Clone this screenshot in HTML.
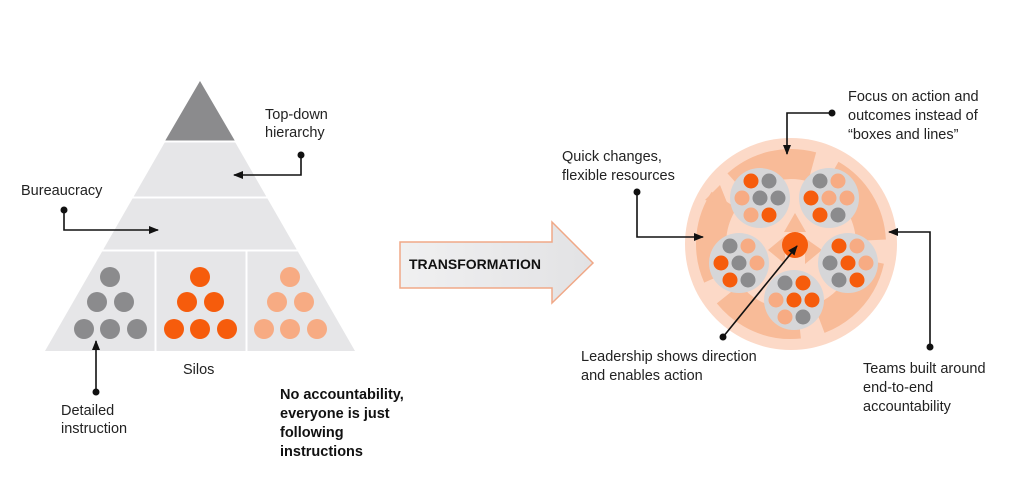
<!DOCTYPE html>
<html><head><meta charset="utf-8"><style>
html,body{margin:0;padding:0;background:#fff;}
svg{display:block;}
text{font-family:"Liberation Sans",sans-serif;font-size:14.5px;fill:#222;}
.b{font-weight:bold;fill:#111;}
</style></head><body>
<svg width="1024" height="487" viewBox="0 0 1024 487" xmlns="http://www.w3.org/2000/svg">
<defs>
<marker id="ah" markerWidth="10" markerHeight="8" refX="9" refY="4" orient="auto" markerUnits="userSpaceOnUse">
<path d="M0,0 L10,4 L0,8 Z" fill="#111"/></marker>
<linearGradient id="ag" x1="0" x2="1"><stop offset="0" stop-color="#f0f0f1"/><stop offset="1" stop-color="#e2e2e4"/></linearGradient>
</defs>
<polygon points="200,81 355,351 45,351" fill="#e6e6e8"/>
<polygon points="200,81 235,141 165,141" fill="#8b8b8d"/>
<line x1="150" y1="141.5" x2="250" y2="141.5" stroke="#fff" stroke-width="2"/>
<line x1="100" y1="197.5" x2="300" y2="197.5" stroke="#fff" stroke-width="2"/>
<line x1="60" y1="250.5" x2="340" y2="250.5" stroke="#fff" stroke-width="2"/>
<line x1="155.5" y1="251" x2="155.5" y2="352" stroke="#fff" stroke-width="2"/>
<line x1="246.5" y1="251" x2="246.5" y2="352" stroke="#fff" stroke-width="2"/>
<g fill="#8b8b8d"><circle cx="110" cy="277" r="10"/><circle cx="97" cy="302" r="10"/><circle cx="124" cy="302" r="10"/><circle cx="84" cy="329" r="10"/><circle cx="110" cy="329" r="10"/><circle cx="137" cy="329" r="10"/></g>
<g fill="#f65c0c"><circle cx="200" cy="277" r="10"/><circle cx="187" cy="302" r="10"/><circle cx="214" cy="302" r="10"/><circle cx="174" cy="329" r="10"/><circle cx="200" cy="329" r="10"/><circle cx="227" cy="329" r="10"/></g>
<g fill="#f7ab83"><circle cx="290" cy="277" r="10"/><circle cx="277" cy="302" r="10"/><circle cx="304" cy="302" r="10"/><circle cx="264" cy="329" r="10"/><circle cx="290" cy="329" r="10"/><circle cx="317" cy="329" r="10"/></g>
<text x="265" y="119">Top-down</text><text x="265" y="137">hierarchy</text>
<circle cx="301" cy="155" r="3.5" fill="#111"/>
<polyline points="301,155 301,175 234,175" fill="none" stroke="#111" stroke-width="1.6" marker-end="url(#ah)"/>
<text x="21" y="195">Bureaucracy</text>
<circle cx="64" cy="210" r="3.5" fill="#111"/>
<polyline points="64,210 64,230 158,230" fill="none" stroke="#111" stroke-width="1.6" marker-end="url(#ah)"/>
<circle cx="96" cy="392" r="3.5" fill="#111"/>
<line x1="96" y1="392" x2="96" y2="341" stroke="#111" stroke-width="1.6" marker-end="url(#ah)"/>
<text x="61" y="415">Detailed</text><text x="61" y="433">instruction</text>
<text x="183" y="374">Silos</text>
<text class="b" x="280" y="399">No accountability,</text>
<text class="b" x="280" y="418">everyone is just</text>
<text class="b" x="280" y="437">following</text>
<text class="b" x="280" y="456">instructions</text>
<polygon points="400,242 552,242 552,222 593,263 552,303 552,288 400,288" fill="url(#ag)" stroke="#f0a887" stroke-width="1.5"/>
<text class="b" x="409" y="269" style="font-size:14px">TRANSFORMATION</text>
<circle cx="791" cy="244" r="106" fill="#fcd9c7"/>
<circle cx="791" cy="244" r="80" fill="none" stroke="#f8bb98" stroke-width="30" stroke-dasharray="80 20.5" transform="rotate(-60 791 244)"/>
<g fill="#f8bb98">
<polygon points="795,213 806,232 784,232"/><polygon points="822,250 805,264 805,238"/><polygon points="768,250 785,236 785,264"/>
<polygon points="705,200 720,185 728,205"/>
</g>
<circle cx="795" cy="245" r="13" fill="#f65c0c"/>
<g fill="#d6d6d8"><circle cx="760" cy="198" r="30"/><circle cx="829" cy="198" r="30"/><circle cx="739" cy="263" r="30"/><circle cx="848" cy="263" r="30"/><circle cx="794" cy="300" r="30"/></g>
<g>
<circle cx="751" cy="181" r="7.5" fill="#f65c0c"/><circle cx="769" cy="181" r="7.5" fill="#8b8b8d"/>
<circle cx="742" cy="198" r="7.5" fill="#f7ab83"/><circle cx="760" cy="198" r="7.5" fill="#8b8b8d"/><circle cx="778" cy="198" r="7.5" fill="#8b8b8d"/>
<circle cx="751" cy="215" r="7.5" fill="#f7ab83"/><circle cx="769" cy="215" r="7.5" fill="#f65c0c"/>
<circle cx="820" cy="181" r="7.5" fill="#8b8b8d"/><circle cx="838" cy="181" r="7.5" fill="#f7ab83"/>
<circle cx="811" cy="198" r="7.5" fill="#f65c0c"/><circle cx="829" cy="198" r="7.5" fill="#f7ab83"/><circle cx="847" cy="198" r="7.5" fill="#f7ab83"/>
<circle cx="820" cy="215" r="7.5" fill="#f65c0c"/><circle cx="838" cy="215" r="7.5" fill="#8b8b8d"/>
<circle cx="730" cy="246" r="7.5" fill="#8b8b8d"/><circle cx="748" cy="246" r="7.5" fill="#f7ab83"/>
<circle cx="721" cy="263" r="7.5" fill="#f65c0c"/><circle cx="739" cy="263" r="7.5" fill="#8b8b8d"/><circle cx="757" cy="263" r="7.5" fill="#f7ab83"/>
<circle cx="730" cy="280" r="7.5" fill="#f65c0c"/><circle cx="748" cy="280" r="7.5" fill="#8b8b8d"/>
<circle cx="839" cy="246" r="7.5" fill="#f65c0c"/><circle cx="857" cy="246" r="7.5" fill="#f7ab83"/>
<circle cx="830" cy="263" r="7.5" fill="#8b8b8d"/><circle cx="848" cy="263" r="7.5" fill="#f65c0c"/><circle cx="866" cy="263" r="7.5" fill="#f7ab83"/>
<circle cx="839" cy="280" r="7.5" fill="#8b8b8d"/><circle cx="857" cy="280" r="7.5" fill="#f65c0c"/>
<circle cx="785" cy="283" r="7.5" fill="#8b8b8d"/><circle cx="803" cy="283" r="7.5" fill="#f65c0c"/>
<circle cx="776" cy="300" r="7.5" fill="#f7ab83"/><circle cx="794" cy="300" r="7.5" fill="#f65c0c"/><circle cx="812" cy="300" r="7.5" fill="#f65c0c"/>
<circle cx="785" cy="317" r="7.5" fill="#f7ab83"/><circle cx="803" cy="317" r="7.5" fill="#8b8b8d"/>
</g>
<text x="848" y="101">Focus on action and</text>
<text x="848" y="120">outcomes instead of</text>
<text x="848" y="139">“boxes and lines”</text>
<circle cx="832" cy="113" r="3.5" fill="#111"/>
<polyline points="832,113 787,113 787,154" fill="none" stroke="#111" stroke-width="1.6" marker-end="url(#ah)"/>
<text x="562" y="161">Quick changes,</text>
<text x="562" y="180">flexible resources</text>
<circle cx="637" cy="192" r="3.5" fill="#111"/>
<polyline points="637,192 637,237 703,237" fill="none" stroke="#111" stroke-width="1.6" marker-end="url(#ah)"/>
<circle cx="930" cy="347" r="3.5" fill="#111"/>
<polyline points="930,347 930,232 889,232" fill="none" stroke="#111" stroke-width="1.6" marker-end="url(#ah)"/>
<circle cx="723" cy="337" r="3.5" fill="#111"/>
<line x1="723" y1="337" x2="797" y2="246" stroke="#111" stroke-width="1.6" marker-end="url(#ah)"/>
<text x="581" y="361">Leadership shows direction</text>
<text x="581" y="380">and enables action</text>
<text x="863" y="373">Teams built around</text>
<text x="863" y="392">end-to-end</text>
<text x="863" y="411">accountability</text>
</svg>
</body></html>
